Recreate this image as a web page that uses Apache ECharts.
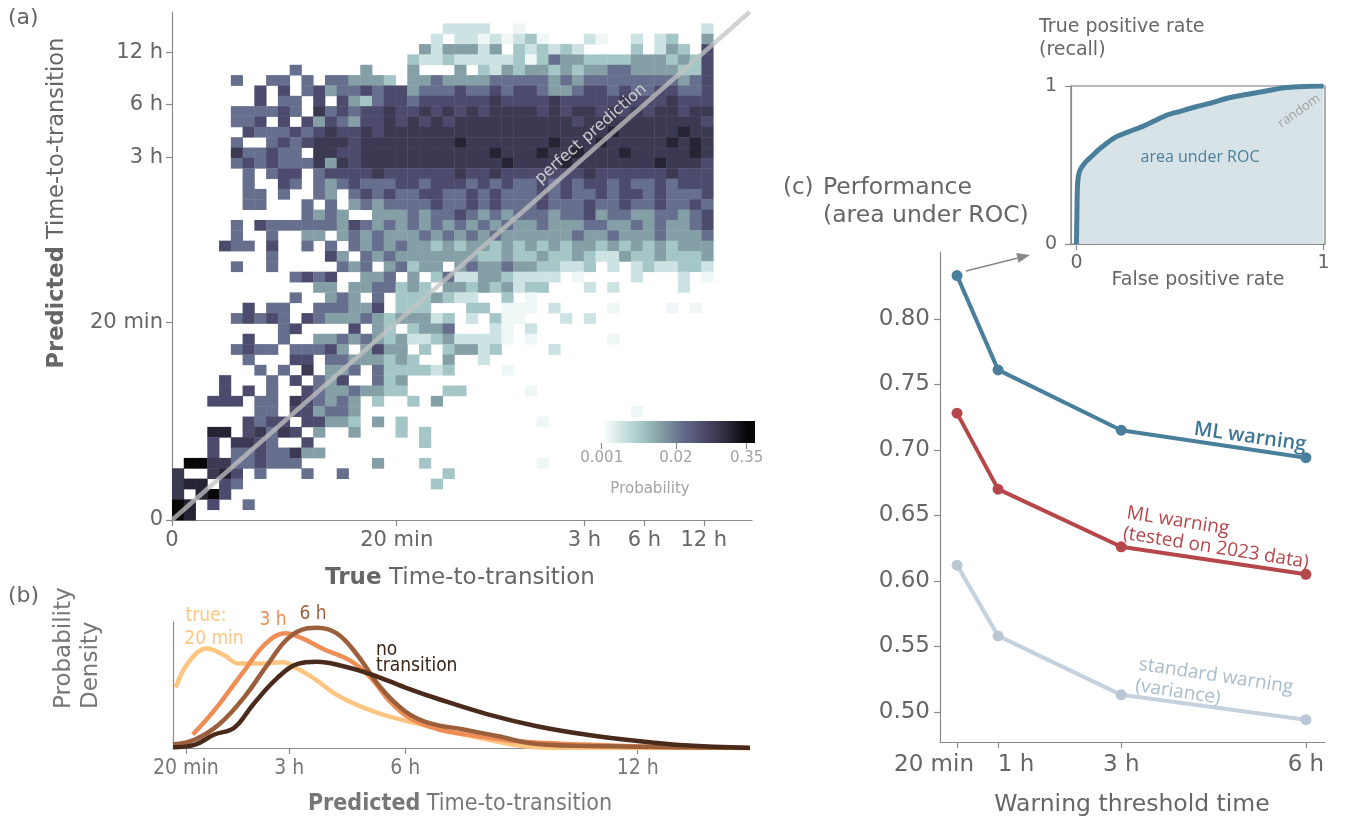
<!DOCTYPE html>
<html>
<head>
<meta charset="utf-8">
<script src="https://cdn.jsdelivr.net/npm/echarts@6/dist/echarts.min.js"></script>
<style>
  html, body { margin: 0; background: #fff; }
  #chart { width: 1347px; height: 825px; }
</style>
</head>
<body>
<div id="chart"></div>
<script>
// (a) heat map: one string per predicted-time bin, top row first, 46 true-time bins each.
// '.' = empty, 1..9 = colour level (spaces only group columns by ten)
let heatRows = [
  '.......... .......... ...2222..1 .......... .....2',
  '.......... .......... ..2.221212 31...21..2 .23..4',
  '.......... .......... .4244424.3 23232....3 .243.6',
  '.......... .......... 3223222223 1354433334 443436',
  '.......... 5.....4... 4...4.3243 4434344554 444336',
  '.....5..55 .5.554443. 4454444555 5545455555 555456',
  '.......6.6 .564556566 4555655656 6544566565 566556',
  '.......6.5 5.6.643566 5666666766 6676666676 667666',
  '.....55556 5.75656676 6767676777 7676776767 677677',
  '.....556.6 .646546676 7676777777 7777677777 777776',
  '......6555 6567667677 7777777777 7777777877 777877',
  '.....5..56 5677767777 7777877777 7787778777 778787',
  '.....75565 5.77667777 7777777877 7877877787 777787',
  '.....56565 5574767777 7777777787 7778777777 787776',
  '......5.56 6.56666766 6666766766 6666676666 667666',
  '......5..6 5.54565556 6566656565 5656566565 565666',
  '......55.5 ..54.56565 5665565655 5656556566 565556',
  '......55.. .5.5.45455 5565565655 5655565565 565565',
  '.......... .5454..444 5455654545 5545564554 455456',
  '.....5.655 5555465454 5454545454 4544455445 454456',
  '.....5..5. .44.454544 4545454544 4444544544 454445',
  '....655.6. .5.5.54545 4434344343 4343443434 343444',
  '........5. ...64.5454 4444443343 3433432243 343334',
  '.....5..5. ....545.45 344.454454 433223.2.2 322332',
  '.......... 5656..445. 4.35224432 222.1....2 ...2.1',
  '.......... ..44.44553 43.4434342 33...2.2.. ...2..',
  '.......... 5..454.5.3 334322..3. 1......... ......',
  '......6.55 ..555446.3 33...33.11 1.2....1.. ..1.1.',
  '.....56565 .654445434 4423.2.311 ...2.2.... ......',
  '.........5 6....6.43. 3445...21. 2......... ......',
  '......6..5 ..44545434 223422221. 1......1.. ......',
  '.....5655. 55564.4644 .3.34423.. ..2....... ......',
  '......5... 66.5544434 3..4..2... .......... ......',
  '.......5.5 .7.445.533 3323....1. .......... ......',
  '....6...5. 6.546..534 .......... .......... ......',
  '....6.6.5. .654454433 ...33..... 1......... ......',
  '...666.55. 765454.3.. 3.4....... .......... ......',
  '.......55. 664554.... .......... .........1 ......',
  '......6566 .66443.4.3 .......... .1........ ......',
  '...88.6757 6.4..4...3 .3........ .......... ......',
  '...6.7765. .6........ .3........ .......... ......',
  '...6.55655 744....... .......... .......... ......',
  '.997755655 5......4.. .3........ .1........ ......',
  '7..786.5.. .5..5..... ...3...... .......... ......',
  '788.65.... .......... ..3....... .......... ......',
  '7.896..... .......... .......... .......... ......',
  '98.6..5... .......... .......... .......... ......',
  '98........ .......... .......... .......... ......'
];
// probability belonging to each colour level 1..9
let levelProb = [0.0013, 0.0023, 0.0051, 0.0107, 0.025, 0.060, 0.10, 0.178, 0.34];
// time ticks of (a), in bin units (same on both axes)
let timeTickPos = [0, 19.1, 35.05, 40.15, 45.2];
let timeTickLabels = ['0', '20 min', '3 h', '6 h', '12 h'];
let cbarTicks = [0.001, 0.02, 0.35];
let cbarTickLabels = ['0.001', '0.02', '0.35'];

// (b) density curves, [predicted hours, density]
let dens20min = [[0.07, 0.48], [0.4, 0.68], [0.88, 0.79], [1.3, 0.74], [1.7, 0.67], [2.2, 0.67], [2.84, 0.68],
  [3.2, 0.63], [3.6, 0.56], [4.35, 0.40], [5.36, 0.27], [6.37, 0.19], [7.5, 0.107], [8.77, 0.027], [9.4, 0.005], [10.5, 0], [14.9, 0]];
let dens3h = [[0.51, 0.107], [0.85, 0.22], [1.2, 0.35], [1.83, 0.61], [2.4, 0.83], [2.9, 0.91], [3.34, 0.87], [3.85, 0.79],
  [4.6, 0.69], [5.1, 0.56], [5.6, 0.37], [6.1, 0.24], [6.87, 0.147], [7.9, 0.093], [8.9, 0.053], [10.6, 0.027], [12.5, 0.008], [14.9, 0]];
let dens6h = [[0, 0.027], [0.57, 0.067], [1.2, 0.19], [1.83, 0.4], [2.46, 0.67], [2.97, 0.87], [3.47, 0.95], [3.72, 0.955],
  [4.23, 0.91], [4.73, 0.75], [5.36, 0.48], [6.0, 0.29], [6.6, 0.2], [7.5, 0.147], [8.4, 0.093], [9.4, 0.032], [11.3, 0.013], [13.4, 0.005], [14.9, 0]];
let densNone = [[0, 0.005], [0.57, 0.027], [1.07, 0.107], [1.58, 0.16], [2.08, 0.35], [2.71, 0.56], [3.22, 0.667], [3.72, 0.685],
  [4.35, 0.653], [5.1, 0.587], [6.0, 0.48], [6.87, 0.387], [8.13, 0.267], [9.4, 0.173], [10.65, 0.107], [11.9, 0.059], [13.2, 0.021], [14.9, 0]];
let densTickHours = [1 / 3, 3, 6, 12];
let densTickLabels = ['20 min', '3 h', '6 h', '12 h'];

// (c) area under ROC per warning threshold
let thresholdHours = [1 / 3, 1, 3, 6];
let thresholdLabels = ['20 min', '1 h', '3 h', '6 h'];
let aucML = [0.833, 0.761, 0.715, 0.694];
let aucML2023 = [0.728, 0.670, 0.626, 0.605];
let aucVariance = [0.612, 0.558, 0.513, 0.494];
let aucTicks = [0.50, 0.55, 0.60, 0.65, 0.70, 0.75, 0.80];

// inset ROC curve
let rocFpr = [0, 0.002, 0.004, 0.008, 0.015, 0.03, 0.044, 0.065, 0.088, 0.12, 0.16, 0.21, 0.263, 0.31, 0.365, 0.42, 0.48, 0.55, 0.613, 0.68, 0.745, 0.8, 0.847, 0.9, 0.95, 1.0];
let rocTpr = [0, 0.2, 0.36, 0.43, 0.47, 0.505, 0.53, 0.56, 0.594, 0.635, 0.678, 0.71, 0.741, 0.775, 0.815, 0.84, 0.867, 0.895, 0.924, 0.945, 0.962, 0.978, 0.99, 0.996, 0.999, 1.0];

const FONT = '"DejaVu Sans", sans-serif';
const FONT_NARROW = '"DejaVu Sans Condensed", "Liberation Sans Narrow", "Open Sans", sans-serif';
const FONT_NOTE = '"Open Sans", "Noto Sans", sans-serif';
const AXIS_GREY = '#8a8a8a';
const TEXT_GREY = '#666';

// colour ramp of the heat map, log10(probability) from 0.001 to 0.35
let cmapColors = ['#ffffff', '#cde3e3', '#a2c4c4', '#7f97a0', '#62688a', '#4b4869', '#2e2b3e', '#060608'];
let cmapMin = -3, cmapMax = Math.log10(0.35);
let cbarMin = -3, cbarMax = -0.31;

function nearestIndex(values, v) {
  let best = 0;
  for (let i = 1; i < values.length; i++) {
    if (Math.abs(values[i] - v) < Math.abs(values[best] - v)) best = i;
  }
  return best;
}

function nearestLabel(values, labels) {
  return function (v) { return labels[nearestIndex(values, v)]; };
}

function zip(xs, ys) {
  return xs.map(function (x, i) { return [x, ys[i]]; });
}

let heatData = [];
heatRows.forEach(function (row, r) {
  let cells = row.replace(/ /g, '');
  let yBin = heatRows.length - 1 - r;
  for (let c = 0; c < cells.length; c++) {
    if (cells[c] === '.') continue;
    heatData.push([c, yBin, Math.log10(levelProb[+cells[c] - 1])]);
  }
});

function valueAxis(grid, min, max, extra) {
  let ax = {
    gridIndex: grid, type: 'value', min: min, max: max,
    axisLine: { show: true, onZero: false, lineStyle: { color: AXIS_GREY, width: 1.2 } },
    axisTick: { show: false },
    axisLabel: { show: false },
    splitLine: { show: false }
  };
  return Object.assign(ax, extra || {});
}

function ticks(values, labels, font, size, color, margin) {
  return {
    axisTick: { show: true, customValues: values, length: 6, lineStyle: { color: AXIS_GREY, width: 1.2 } },
    axisLabel: {
      show: true, customValues: values, hideOverlap: false,
      formatter: labels ? nearestLabel(values, labels) : function (v) { return v.toFixed(2); },
      fontFamily: font, fontSize: size, color: color, margin: margin
    }
  };
}

function text(x, y, str, opts) {
  let o = opts || {};
  return {
    type: 'text', x: x, y: y, z: 100, rotation: o.rotation || 0, silent: true,
    style: {
      text: str, fill: o.color || TEXT_GREY, fontFamily: o.font || FONT, fontSize: o.size || 22,
      fontWeight: o.weight || 'normal', align: o.align || 'center', verticalAlign: o.valign || 'middle',
      lineHeight: o.lineHeight, rich: o.rich
    }
  };
}

const deg = Math.PI / 180;

// (c) x labels: '20 min' sits left of its tick, '1 h' right of it
let thresholdAxis = ticks(thresholdHours, thresholdLabels, FONT, 23, TEXT_GREY, 12);
thresholdAxis.axisLabel.formatter = function (v) {
  let i = nearestIndex(thresholdHours, v);
  return ['{l|', '{r|', '{c|', '{c|'][i] + thresholdLabels[i] + '}';
};
thresholdAxis.axisLabel.rich = {
  l: { fontFamily: FONT, fontSize: 23, color: TEXT_GREY, padding: [0, 46, 0, 0] },
  r: { fontFamily: FONT, fontSize: 23, color: TEXT_GREY, padding: [0, 0, 0, 36] },
  c: { fontFamily: FONT, fontSize: 23, color: TEXT_GREY }
};

let option = {
  animation: false,
  backgroundColor: '#fff',
  grid: [
    { left: 172, top: 12, width: 580, height: 508 },     // (a)
    { left: 173, top: 622, width: 577, height: 126 },    // (b)
    { left: 940, top: 252, width: 385, height: 490 },    // (c)
    { left: 1071, top: 86, width: 254, height: 158, show: true, borderColor: '#777', borderWidth: 1.2 }, // ROC inset
    { left: 601.7, top: 421, width: 153.3, height: 22 }  // colour bar
  ],
  visualMap: {
    show: false, type: 'continuous', seriesIndex: 0, dimension: 2,
    min: cmapMin, max: cmapMax, inRange: { color: cmapColors }
  },
  xAxis: [
    valueAxis(0, 0, 49.3, ticks(timeTickPos, timeTickLabels, FONT, 21, TEXT_GREY, 10)),
    valueAxis(1, 0, 14.9, ticks(densTickHours, densTickLabels, FONT_NARROW, 21, '#777', 10)),
    valueAxis(2, 0.057, 6.31, thresholdAxis),
    valueAxis(3, -0.022, 1.006, ticks([0, 1], ['0', '1'], FONT, 19, TEXT_GREY, 10)),
    Object.assign(valueAxis(4, cbarMin, cbarMax, ticks(cbarTicks.map(Math.log10), cbarTickLabels, FONT, 15, '#a3a3a3', 8)),
      { axisLine: { show: false } })
  ],
  yAxis: [
    valueAxis(0, 0, 49.1, ticks(timeTickPos, timeTickLabels, FONT, 21, TEXT_GREY, 9)),
    valueAxis(1, 0, 1),
    valueAxis(2, 0.477, 0.851, ticks(aucTicks, null, FONT, 23, TEXT_GREY, 10)),
    valueAxis(3, 0, 1, ticks([0, 1], ['0', '1'], FONT, 19, TEXT_GREY, 14)),
    { gridIndex: 4, type: 'value', min: 0, max: 1, show: false }
  ],
  series: [
    {
      type: 'custom', xAxisIndex: 0, yAxisIndex: 0, data: heatData, silent: true,
      encode: { x: 0, y: 1 },
      renderItem: function (params, api) {
        let a = api.coord([api.value(0), api.value(1) + 1]);
        let b = api.coord([api.value(0) + 1, api.value(1)]);
        return {
          type: 'rect',
          shape: { x: a[0], y: a[1], width: b[0] - a[0] + 0.4, height: b[1] - a[1] + 0.4 },
          style: { fill: api.visual('color') }
        };
      }
    },
    {
      type: 'line', xAxisIndex: 0, yAxisIndex: 0, data: [[0, 0], [49.1, 49.1]], symbol: 'none', silent: true, z: 3,
      lineStyle: { color: 'rgba(195,195,195,0.75)', width: 4.5 }
    },
    {
      type: 'custom', xAxisIndex: 4, yAxisIndex: 4, data: [[cbarMin, 0]], silent: true,
      renderItem: function (params, api) {
        let a = api.coord([cbarMin, 1]), b = api.coord([cbarMax, 0]);
        let n = cmapColors.length;
        let stops = cmapColors.map(function (c, i) {
          let v = cmapMin + i * (cmapMax - cmapMin) / (n - 1);
          return { offset: (v - cbarMin) / (cbarMax - cbarMin), color: c };
        });
        stops.push({ offset: 1, color: cmapColors[n - 1] });
        return {
          type: 'rect',
          shape: { x: a[0], y: a[1], width: b[0] - a[0], height: b[1] - a[1] },
          style: { fill: new echarts.graphic.LinearGradient(0, 0, 1, 0, stops) }
        };
      }
    },
    // (b)
    { type: 'line', xAxisIndex: 1, yAxisIndex: 1, data: dens20min, symbol: 'none', smooth: 0.4, lineStyle: { color: '#fdc57f', width: 4.5 } },
    { type: 'line', xAxisIndex: 1, yAxisIndex: 1, data: dens3h, symbol: 'none', smooth: 0.4, lineStyle: { color: '#ee8e56', width: 4.5 } },
    { type: 'line', xAxisIndex: 1, yAxisIndex: 1, data: dens6h, symbol: 'none', smooth: 0.4, lineStyle: { color: '#9c5f3b', width: 4.5 } },
    { type: 'line', xAxisIndex: 1, yAxisIndex: 1, data: densNone, symbol: 'none', smooth: 0.4, lineStyle: { color: '#4a2b1b', width: 4.5 } },
    // (c)
    {
      type: 'line', xAxisIndex: 2, yAxisIndex: 2, data: zip(thresholdHours, aucVariance), symbol: 'circle', symbolSize: 11,
      lineStyle: { color: '#c5d1dd', width: 4 }, itemStyle: { color: '#b9c7d4' }
    },
    {
      type: 'line', xAxisIndex: 2, yAxisIndex: 2, data: zip(thresholdHours, aucML2023), symbol: 'circle', symbolSize: 11,
      lineStyle: { color: '#b5474b', width: 4 }, itemStyle: { color: '#b5474b' }
    },
    {
      type: 'line', xAxisIndex: 2, yAxisIndex: 2, data: zip(thresholdHours, aucML), symbol: 'circle', symbolSize: 11,
      lineStyle: { color: '#4a7f9c', width: 4 }, itemStyle: { color: '#4a7f9c' }
    },
    // ROC inset
    {
      type: 'line', xAxisIndex: 3, yAxisIndex: 3, data: zip(rocFpr, rocTpr), symbol: 'none', smooth: 0.3, z: 4,
      lineStyle: { color: '#4a7f9c', width: 5 }, areaStyle: { color: '#d8e3e8', opacity: 1 }
    },
    {
      type: 'line', xAxisIndex: 3, yAxisIndex: 3, data: [[0, 0], [1, 1]], symbol: 'none', z: 3,
      lineStyle: { color: '#c6c6c6', width: 2 }
    }
  ],
  graphic: [
    text(8, 18, '(a)', { align: 'left' }),
    text(8, 596, '(b)', { align: 'left' }),
    text(783, 188, '(c)', { align: 'left', size: 23 }),
    text(823, 188, 'Performance', { align: 'left', size: 23.5 }),
    text(823, 216, '(area under ROC)', { align: 'left', size: 23.5 }),
    text(57, 203, '{b|Predicted} Time-to-transition', {
      size: 22.5, rotation: 90 * deg,
      rich: { b: { fontWeight: 'bold', fontFamily: FONT, fontSize: 22.5, fill: TEXT_GREY } }
    }),
    text(460, 578, '{b|True} Time-to-transition', {
      size: 23,
      rich: { b: { fontWeight: 'bold', fontFamily: FONT, fontSize: 23, fill: TEXT_GREY } }
    }),
    text(591, 134, 'perfect prediction', { size: 16, color: '#cdcdcd', rotation: 41.4 * deg }),
    text(650, 489, 'Probability', { size: 15, color: '#a3a3a3' }),
    // (b)
    text(51, 709, 'Probability\nDensity', {
      size: 23, color: '#777', rotation: 90 * deg, align: 'left', valign: 'top', lineHeight: 27
    }),
    text(460, 804, '{b|Predicted} Time-to-transition', {
      font: FONT_NARROW, size: 23, color: '#777',
      rich: { b: { fontWeight: 'bold', fontFamily: FONT_NARROW, fontSize: 23, fill: '#777' } }
    }),
    text(206, 616, 'true:', { font: FONT_NARROW, size: 19, color: '#fdc57f' }),
    text(214, 639, '20 min', { font: FONT_NARROW, size: 19, color: '#fdc57f' }),
    text(273, 620, '3 h', { font: FONT_NARROW, size: 19, color: '#ee8e56' }),
    text(313, 614, '6 h', { font: FONT_NARROW, size: 19, color: '#9c5f3b' }),
    text(376, 650, 'no', { font: FONT_NARROW, size: 19, color: '#3a2416', align: 'left' }),
    text(376, 666, 'transition', { font: FONT_NARROW, size: 19, color: '#3a2416', align: 'left' }),
    // (c)
    text(1132, 805, 'Warning threshold time', { size: 23.5 }),
    text(1250, 437, 'ML warning', { font: FONT_NOTE, size: 20, weight: 600, color: '#3f7596', rotation: -8 * deg }),
    text(1178, 521, 'ML warning', { font: FONT_NOTE, size: 19, color: '#b5474b', rotation: -9 * deg }),
    text(1216, 548, '(tested on 2023 data)', { font: FONT_NOTE, size: 19, color: '#b5474b', rotation: -9 * deg }),
    text(1216, 676, 'standard warning', { font: FONT_NOTE, size: 19, color: '#a9bccb', rotation: -8.6 * deg }),
    text(1178, 692, '(variance)', { font: FONT_NOTE, size: 19, color: '#a9bccb', rotation: -8.6 * deg }),
    // inset
    text(1039, 27, 'True positive rate', { align: 'left', size: 19 }),
    text(1039, 50, '(recall)', { align: 'left', size: 19 }),
    text(1198, 280, 'False positive rate', { size: 19 }),
    text(1200, 157, 'area under ROC', { font: FONT_NOTE, size: 16, color: '#4a7f9c' }),
    text(1299, 111, 'random', { font: FONT_NOTE, size: 13, color: '#a0a0a0', rotation: 35 * deg }),
    {
      type: 'line', z: 100, silent: true,
      shape: { x1: 966, y1: 271, x2: 1018, y2: 258 },
      style: { stroke: '#888', lineWidth: 1.5 }
    },
    {
      type: 'polygon', z: 100, silent: true,
      shape: { points: [[1030, 255], [1018.6, 262.8], [1016.2, 253.1]] },
      style: { fill: '#888' }
    }
  ]
};

let chart = echarts.init(document.getElementById('chart'));
chart.setOption(option);
</script>
</body>
</html>
